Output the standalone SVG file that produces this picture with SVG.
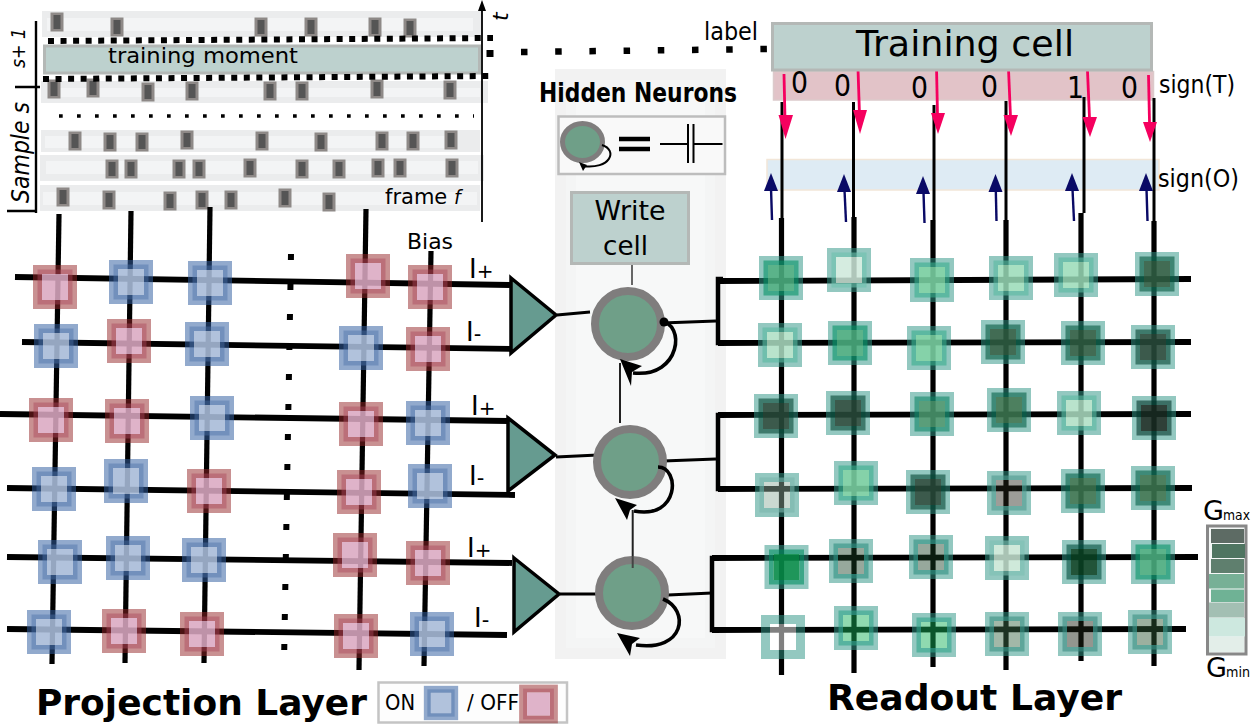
<svg xmlns="http://www.w3.org/2000/svg" width="1252" height="724" viewBox="0 0 1252 724">
<style>
text{font-family:"DejaVu Sans",sans-serif;fill:#000}
.it{font-style:italic}
.bd{font-weight:bold}
.hl{stroke:#000;stroke-width:5.8;fill:none}
.vl{stroke:#000;stroke-width:5.2;fill:none}
.thin{stroke:#000;stroke-width:3;fill:none}
.br{stroke:#000;stroke-width:4.5;fill:none}
.lnk{stroke:#000;stroke-width:3;fill:none}
.loop{stroke:#000;stroke-width:3.6;fill:none}
.tri{fill:#669b90;stroke:#000;stroke-width:3.5;stroke-linejoin:miter}
.neu{fill:#6f9f88;stroke:#7f7d7d;stroke-width:8}
.cellbox{fill:#bdd1ce;stroke:#b4b8b6;stroke-width:3}
.pk{stroke:#f5005f;stroke-width:2.8;fill:none}
.pkh{fill:#f5005f}
.nv{stroke:#0a0a66;stroke-width:2.4;fill:none}
.nvh{fill:#0a0a66}
.sq{fill:#000}
.str{fill:#ebeced}
.strin{fill:#f3f4f5}
.ev1{fill:#8e8987}
.ev2{fill:#555}
.fr{fill:none;stroke:rgb(50,150,135);stroke-opacity:.525;stroke-width:9}
.md{fill:none;stroke:var(--m);stroke-opacity:.6;stroke-width:4.5}
.in{fill:var(--i);fill-opacity:var(--o)}
.w1{--i:#cee9da;--o:.85;--m:#6cc1ae}
.a1{--i:#addec3;--o:.85;--m:#59b9a0}
.a2{--i:#99dab7;--o:.85;--m:#59b9a0}
.a3{--i:#78cda0;--o:.9;--m:#37ad8c}
.a4{--i:#49ab7d;--o:.9;--m:#059366}
.a5{--i:#48946c;--o:.9;--m:#0f8666}
.a6{--i:#3a724e;--o:.9;--m:#056148}
.a7{--i:#2d5c41;--o:.9;--m:#055840}
.a8{--i:#274838;--o:.9;--m:#054634}
.a9{--i:#182b22;--o:.9;--m:#003428}
.g0{--i:#91ae9d;--o:.47;--m:#7ab5ab}
.g4{--i:#26261b;--o:.45;--m:#4f9a8e}
.s5{--i:#183e24;--o:.45;--m:#2f8f80}
.s1{--i:#078b48;--o:.9;--m:#009060}
.s2{--i:#c7e5d4;--o:.85;--m:#7cc0b2}
.s3{--i:#0a4124;--o:.9;--m:#004c3c}
.e0{--i:#ffffff;--o:.5;--m:transparent}
.e2{--i:#17b15a;--o:.48;--m:#2fa588}
.e4{--i:#3c6a49;--o:.48;--m:#3b8f80}
.e5{--i:#1d2315;--o:.48;--m:#3a8a80}
.e6{--i:#305936;--o:.48;--m:#3a8f80}
</style>
<defs>
<g id="cell-on">
<rect x="-17.5" y="-17.5" width="35" height="35" fill="none" stroke="rgb(50,95,160)" stroke-opacity=".53" stroke-width="9"/>
<rect x="-15.25" y="-15.25" width="30.5" height="30.5" fill="none" stroke="rgb(75,113,169)" stroke-opacity=".45" stroke-width="4.5"/>
<rect x="-13" y="-13" width="26" height="26" fill="rgb(167,187,216)" fill-opacity=".89"/>
</g>
<g id="cell-off">
<rect x="-17.5" y="-17.5" width="35" height="35" fill="none" stroke="rgb(148,36,38)" stroke-opacity=".5" stroke-width="9"/>
<rect x="-15.25" y="-15.25" width="30.5" height="30.5" fill="none" stroke="rgb(170,70,90)" stroke-opacity=".45" stroke-width="4.5"/>
<rect x="-13" y="-13" width="26" height="26" fill="rgb(218,168,193)" fill-opacity=".87"/>
</g>
<g id="cell-read">
<rect class="fr" x="-17.5" y="-17.5" width="35" height="35"/>
<rect class="md" x="-15.25" y="-15.25" width="30.5" height="30.5"/>
<rect class="in" x="-13" y="-13" width="26" height="26"/>
</g>
<g id="ev"><rect class="ev1" x="-6.5" y="-9.5" width="13" height="19"/><rect class="ev2" x="-3.5" y="-7" width="7" height="14"/></g>
</defs>

<!-- spike raster -->
<g id="raster">
<rect class="str" x="42" y="11" width="440" height="26"/><rect class="strin" x="47" y="18" width="426" height="13"/>
<rect class="str" x="41" y="81" width="447" height="22"/><rect class="strin" x="48" y="88" width="432" height="9"/>
<rect class="str" x="41" y="130" width="439" height="22"/><rect class="strin" x="45" y="136" width="410" height="12"/>
<rect class="str" x="40" y="155" width="444" height="26"/><rect class="strin" x="46" y="161" width="432" height="13"/>
<rect class="str" x="40" y="185" width="440" height="26"/><rect class="strin" x="43" y="192" width="434" height="13"/>
<rect class="cellbox" x="44.5" y="46" width="435" height="27" stroke-width="2.5"/>
<use href="#ev" x="57" y="22"/><use href="#ev" x="117" y="27"/><use href="#ev" x="261" y="27"/><use href="#ev" x="311" y="27"/><use href="#ev" x="375" y="27"/><use href="#ev" x="410" y="28"/>
<use href="#ev" x="54" y="89"/><use href="#ev" x="93" y="88"/><use href="#ev" x="148" y="92"/><use href="#ev" x="192" y="91"/><use href="#ev" x="270" y="91"/><use href="#ev" x="302" y="91"/><use href="#ev" x="377" y="89"/><use href="#ev" x="450" y="90"/>
<use href="#ev" x="75" y="141"/><use href="#ev" x="110" y="142"/><use href="#ev" x="142" y="142"/><use href="#ev" x="187" y="140"/><use href="#ev" x="262" y="141"/><use href="#ev" x="321" y="142"/><use href="#ev" x="382" y="141"/><use href="#ev" x="413" y="141"/><use href="#ev" x="451" y="140"/>
<use href="#ev" x="112" y="169"/><use href="#ev" x="131" y="169"/><use href="#ev" x="179" y="169"/><use href="#ev" x="199" y="169"/><use href="#ev" x="250" y="168"/><use href="#ev" x="302" y="169"/><use href="#ev" x="339" y="169"/><use href="#ev" x="378" y="168"/><use href="#ev" x="400" y="168"/><use href="#ev" x="452" y="168"/>
<use href="#ev" x="63" y="197"/><use href="#ev" x="109" y="200"/><use href="#ev" x="170" y="201"/><use href="#ev" x="202" y="200"/><use href="#ev" x="231" y="200"/><use href="#ev" x="285" y="198"/><use href="#ev" x="329" y="202"/>
<path d="M48 41 L493 38" stroke="#000" stroke-width="6" stroke-dasharray="6 6.55" fill="none"/>
<path d="M43 79 L489 76" stroke="#000" stroke-width="6" stroke-dasharray="6 6.55" fill="none"/>
<path d="M59 116 L474 116" stroke="#000" stroke-width="3.7" stroke-dasharray="3.7 14.3" fill="none"/>
<path d="M36 21 V213 M15 87 H40 M7 211 H36" stroke="#000" stroke-width="2.4" fill="none"/>
<path d="M482 222 V6" stroke="#000" stroke-width="1.8" fill="none"/>
<path d="M482 0 L478 11 H486 Z" fill="#000"/>
<text class="it" transform="translate(508 21) rotate(-90)" font-size="22">t</text>
<text class="it" transform="translate(25 68) rotate(-90)" font-size="20" textLength="40" lengthAdjust="spacingAndGlyphs">s+ 1</text>
<text class="it" transform="translate(29 203) rotate(-90)" font-size="25" textLength="101" lengthAdjust="spacingAndGlyphs">Sample s</text>
<text x="108" y="63" font-size="22" textLength="190" lengthAdjust="spacingAndGlyphs">training moment</text>
<text x="385" y="204" font-size="21">frame <tspan class="it" font-size="19">f</tspan></text>
</g>

<!-- dotted link towards the training cell -->
<g id="dots">
<rect class="sq" x="486.500" y="50" width="7" height="7"/>
<path d="M521 52 L770 49" stroke="#000" stroke-width="6.500" stroke-dasharray="6.500 27.700" fill="none"/>
</g>

<!-- hidden neuron column backdrop -->
<g id="hidden-panel">
<rect x="555" y="69" width="171" height="590" fill="#f2f2f2"/>
<rect x="566" y="80" width="149" height="568" fill="#f4f5f5"/>
<rect x="576" y="90" width="129" height="548" fill="#f7f8f8"/>
</g>

<!-- sign bands -->
<g id="bands">
<rect x="773.500" y="71.500" width="380" height="28.500" fill="#e2c3c8" stroke="#dccacb" stroke-width="1.500"/>
<rect x="767" y="159.500" width="392" height="30.500" fill="#deebf4" stroke="#f2e6d8" stroke-width="1.500"/>
</g>

<g id="connectors">
<!-- projection rows -->
<path class="hl" d="M15 277 L510 285"/><path class="hl" d="M22 342 L512 349"/>
<path class="hl" d="M0 414 L508 421"/><path class="hl" d="M7 488 L515 495"/>
<path class="hl" d="M7 557 L512 563"/><path class="hl" d="M7 629 L507 635"/>
<!-- projection columns -->
<path class="vl" d="M59 214 L52 664"/><path class="vl" d="M131 211 L125 663"/>
<path class="vl" d="M210 207 L204 663"/><path class="vl" d="M366 209 L359 670"/>
<path class="vl" d="M431 251 L424 666"/>
<!-- column ellipsis -->
<path d="M291 254 L284 664" stroke="#000" stroke-width="6" stroke-dasharray="6 24" fill="none"/>
<!-- readout rows -->
<path class="hl" d="M718 281 L1191 279"/><path class="hl" d="M718 343 L1191 342"/>
<path class="hl" d="M718 415 L1191 414"/><path class="hl" d="M718 489 L1192 488"/>
<path class="hl" d="M712 558 L1198 557"/><path class="hl" d="M712 630 L1186 629"/>
<!-- readout columns -->
<path class="vl" d="M781.500 218 V675"/><path class="vl" d="M854 217 V673"/>
<path class="vl" d="M933 220 V667"/><path class="vl" d="M1006 220 V670"/>
<path class="vl" d="M1081 213 V661"/><path class="vl" d="M1154 221 V666"/>
<path class="thin" d="M782 102 V218"/><path class="thin" d="M853.500 102 V218"/>
<path class="thin" d="M934 105 V220"/><path class="thin" d="M1006 101 V220"/>
<path class="thin" d="M1084 97 V213"/><path class="thin" d="M1154 98 V221"/>
<!-- brackets into the readout rows -->
<path class="br" d="M723 279 H718 V343 H723"/><path class="br" d="M723 415 H718 V489 H723"/>
<path class="br" d="M717 558 H712 V630 H717"/>
<!-- neuron wiring -->
<path class="lnk" d="M557 315 L590 312"/><path class="lnk" d="M556 457 L598 455"/><path class="lnk" d="M560 594 L597 594"/>
<path class="lnk" d="M662 323 L716 321"/><path class="lnk" d="M663 461 L716 459"/><path class="lnk" d="M668 595 L712 593"/>
<path d="M632 264 V285" stroke="#666" stroke-width="2" fill="none"/>
<path d="M620 363 V423" stroke="#222" stroke-width="2" fill="none"/>
<path d="M632.700 510 V556" stroke="#222" stroke-width="2" fill="none"/>
</g>

<!-- supervision arrows -->
<g id="target-arrows">
<path class="pk" d="M784 74 L785 120"/><path class="pkh" d="M778.500 115 L793 115 L785.500 139 Z"/>
<path class="pk" d="M858 69 L859.500 115"/><path class="pkh" d="M853 110 L867 110 L860 134 Z"/>
<path class="pk" d="M936.500 67 L937.500 115"/><path class="pkh" d="M931 113 L945 113 L938 134 Z"/>
<path class="pk" d="M1008.500 69 L1010.500 117"/><path class="pkh" d="M1003.500 115 L1018 115 L1011 136 Z"/>
<path class="pk" d="M1087.500 71 L1089.500 118"/><path class="pkh" d="M1082.500 117 L1097 117 L1090 137 Z"/>
<path class="pk" d="M1148.500 75 L1149.500 122"/><path class="pkh" d="M1143 122 L1157 122 L1150 142 Z"/>
</g>
<g id="output-arrows">
<path class="nv" d="M772 220 L771 188"/><path class="nvh" d="M771 173 L778 191 L764 191 Z"/>
<path class="nv" d="M846 222 L844.500 190"/><path class="nvh" d="M844 174 L851 192 L837 192 Z"/>
<path class="nv" d="M924.500 223 L923.500 192"/><path class="nvh" d="M923 176 L930 194 L916 194 Z"/>
<path class="nv" d="M996.500 221 L995.800 190"/><path class="nvh" d="M995.500 174 L1002.500 192 L988.500 192 Z"/>
<path class="nv" d="M1074 221 L1072.500 189"/><path class="nvh" d="M1072 173 L1079 191 L1065 191 Z"/>
<path class="nv" d="M1147.500 221 L1146.500 189"/><path class="nvh" d="M1146 173 L1153 191 L1139 191 Z"/>
</g>

<!-- training cell -->
<g id="training-cell">
<rect class="cellbox" x="772.500" y="23.500" width="379" height="46.500"/>
<text x="856" y="56" font-size="36" textLength="218" lengthAdjust="spacingAndGlyphs">Training cell</text>
</g>
<g id="target-digits" font-size="31">
<text x="791" y="93" textLength="17" lengthAdjust="spacingAndGlyphs">0</text>
<text x="834" y="96" textLength="17" lengthAdjust="spacingAndGlyphs">0</text>
<text x="911" y="98" textLength="17" lengthAdjust="spacingAndGlyphs">0</text>
<text x="981" y="97" textLength="17" lengthAdjust="spacingAndGlyphs">0</text>
<text x="1067" y="98" textLength="17" lengthAdjust="spacingAndGlyphs">1</text>
<text x="1121" y="98" textLength="17" lengthAdjust="spacingAndGlyphs">0</text>
</g>
<text x="704" y="40" font-size="24" textLength="54" lengthAdjust="spacingAndGlyphs">label</text>
<text x="1159" y="93" font-size="25" textLength="76" lengthAdjust="spacingAndGlyphs">sign(T)</text>
<text x="1158" y="187" font-size="25" textLength="81" lengthAdjust="spacingAndGlyphs">sign(O)</text>

<!-- hidden neuron key -->
<g id="neuron-key">
<text class="bd" x="539" y="102" font-size="27" textLength="198" lengthAdjust="spacingAndGlyphs">Hidden Neurons</text>
<rect x="558.500" y="116.500" width="166.500" height="57.500" fill="#f9f9f9" stroke="#bdbdbd" stroke-width="2.500"/>
<ellipse cx="582.500" cy="142" rx="20" ry="18.500" fill="#6f9f88" stroke="#7f7d7d" stroke-width="5"/>
<path d="M602 145 C 618 150 611 170 582 166" fill="none" stroke="#000" stroke-width="2"/>
<path d="M579 162 L587 165 L583 171 Z" fill="#000"/>
<path d="M619 139 H650 M619 149 H650" stroke="#000" stroke-width="4.500" fill="none"/>
<path d="M660 144 H688 M694 144 H722.500 M688 124 V163 M693.500 124 V163" stroke="#000" stroke-width="2" fill="none"/>
</g>

<g id="write-cell">
<rect class="cellbox" x="571.500" y="192.500" width="117" height="71"/>
<text x="594.500" y="220" font-size="27" textLength="71" lengthAdjust="spacingAndGlyphs">Write</text>
<text x="603" y="255" font-size="27" textLength="45" lengthAdjust="spacingAndGlyphs">cell</text>
</g>

<!-- amplifiers -->
<g id="amp-1"><polygon class="tri" points="511,278 556,315 511,353"/></g>
<g id="amp-2"><polygon class="tri" points="508,418 555,455 508,491"/></g>
<g id="amp-3"><polygon class="tri" points="514,558 559,594 514,632"/></g>

<!-- hidden neurons -->
<g id="neuron-1"><circle class="neu" cx="628" cy="324" r="33"/>
<path class="loop" d="M661 322 C 685 322 682 378 633 373"/><circle cx="664" cy="322" r="4.500"/>
<path d="M620 359 L642 366 L632 372 L631 386 Z"/></g>
<g id="neuron-2"><circle class="neu" cx="630" cy="462" r="33"/>
<path class="loop" d="M658 467 C 680 467 680 520 634 511"/>
<path d="M615 498 L637 505 L630 510 L627 520 Z"/></g>
<g id="neuron-3"><circle class="neu" cx="632" cy="593" r="33"/>
<path class="loop" d="M663 599 C 690 610 685 652 636 645"/>
<path d="M617 633 L640 638 L632 644 L630 656 Z"/>
<path d="M632.700 556 V568" stroke="#444" stroke-width="2" fill="none"/></g>

<!-- amplifier input labels -->
<g id="input-labels" font-size="26">
<text x="469" y="278">I<tspan font-size="20">+</tspan></text>
<text x="466" y="341">I<tspan font-size="21">-</tspan></text>
<text x="471" y="415">I<tspan font-size="20">+</tspan></text>
<text x="469" y="485">I<tspan font-size="21">-</tspan></text>
<text x="467" y="557">I<tspan font-size="20">+</tspan></text>
<text x="474" y="627">I<tspan font-size="21">-</tspan></text>
</g>
<text x="407" y="249" font-size="21" textLength="46" lengthAdjust="spacingAndGlyphs">Bias</text>

<!-- projection layer crossbar -->
<g id="p11" transform="translate(55 287)"><use href="#cell-off"/></g>
<g id="p12" transform="translate(131 282)"><use href="#cell-on"/></g>
<g id="p13" transform="translate(210 283)"><use href="#cell-on"/></g>
<g id="p14" transform="translate(368 276)"><use href="#cell-off"/></g>
<g id="p15" transform="translate(430 287)"><use href="#cell-off"/></g>
<g id="p21" transform="translate(56 346)"><use href="#cell-on"/></g>
<g id="p22" transform="translate(129 341)"><use href="#cell-off"/></g>
<g id="p23" transform="translate(207 344)"><use href="#cell-on"/></g>
<g id="p24" transform="translate(361 348)"><use href="#cell-on"/></g>
<g id="p25" transform="translate(428 349)"><use href="#cell-off"/></g>
<g id="p31" transform="translate(51 420)"><use href="#cell-off"/></g>
<g id="p32" transform="translate(127 421)"><use href="#cell-off"/></g>
<g id="p33" transform="translate(212 418)"><use href="#cell-on"/></g>
<g id="p34" transform="translate(361 424)"><use href="#cell-off"/></g>
<g id="p35" transform="translate(428 423)"><use href="#cell-on"/></g>
<g id="p41" transform="translate(54 489)"><use href="#cell-on"/></g>
<g id="p42" transform="translate(126 481)"><use href="#cell-on"/></g>
<g id="p43" transform="translate(209 491)"><use href="#cell-off"/></g>
<g id="p44" transform="translate(359 492)"><use href="#cell-off"/></g>
<g id="p45" transform="translate(430 486)"><use href="#cell-on"/></g>
<g id="p51" transform="translate(60 562)"><use href="#cell-on"/></g>
<g id="p52" transform="translate(128 558)"><use href="#cell-on"/></g>
<g id="p53" transform="translate(204 560)"><use href="#cell-on"/></g>
<g id="p54" transform="translate(355 555)"><use href="#cell-off"/></g>
<g id="p55" transform="translate(428 563)"><use href="#cell-off"/></g>
<g id="p61" transform="translate(49 632)"><use href="#cell-on"/></g>
<g id="p62" transform="translate(124 631)"><use href="#cell-off"/></g>
<g id="p63" transform="translate(202 634)"><use href="#cell-off"/></g>
<g id="p64" transform="translate(356 636)"><use href="#cell-off"/></g>
<g id="p65" transform="translate(432 634)"><use href="#cell-on"/></g>

<!-- readout layer crossbar -->
<g id="r11" class="a4" transform="translate(781 278)"><use href="#cell-read"/></g>
<g id="r12" class="w1" transform="translate(849 270)"><use href="#cell-read"/></g>
<g id="r13" class="a3" transform="translate(932 280)"><use href="#cell-read"/></g>
<g id="r14" class="a2" transform="translate(1011 278)"><use href="#cell-read"/></g>
<g id="r15" class="a2" transform="translate(1076 275)"><use href="#cell-read"/></g>
<g id="r16" class="a7" transform="translate(1157 274)"><use href="#cell-read"/></g>
<g id="r21" class="a1" transform="translate(780 345)"><use href="#cell-read"/></g>
<g id="r22" class="a4" transform="translate(850 343)"><use href="#cell-read"/></g>
<g id="r23" class="a3" transform="translate(929 348)"><use href="#cell-read"/></g>
<g id="r24" class="a7" transform="translate(1003 342)"><use href="#cell-read"/></g>
<g id="r25" class="a7" transform="translate(1083 343)"><use href="#cell-read"/></g>
<g id="r26" class="a8" transform="translate(1153 347)"><use href="#cell-read"/></g>
<g id="r31" class="a8" transform="translate(776 416)"><use href="#cell-read"/></g>
<g id="r32" class="a8" transform="translate(848 413)"><use href="#cell-read"/></g>
<g id="r33" class="a5" transform="translate(932 414)"><use href="#cell-read"/></g>
<g id="r34" class="a6" transform="translate(1009 410)"><use href="#cell-read"/></g>
<g id="r35" class="a1" transform="translate(1079 413)"><use href="#cell-read"/></g>
<g id="r36" class="a9" transform="translate(1154 418)"><use href="#cell-read"/></g>
<g id="r41" class="g0" transform="translate(777 495)"><use href="#cell-read"/></g>
<g id="r42" class="a3" transform="translate(856 483)"><use href="#cell-read"/></g>
<g id="r43" class="a8" transform="translate(928 492)"><use href="#cell-read"/></g>
<g id="r44" class="g4" transform="translate(1009 493)"><use href="#cell-read"/></g>
<g id="r45" class="a6" transform="translate(1083 491)"><use href="#cell-read"/></g>
<g id="r46" class="a6" transform="translate(1153 488)"><use href="#cell-read"/></g>
<g id="r51" class="s1" transform="translate(786.500 567)"><use href="#cell-read"/></g>
<g id="r52" class="s5" transform="translate(851 561)"><use href="#cell-read"/></g>
<g id="r53" class="s5" transform="translate(931 557)"><use href="#cell-read"/></g>
<g id="r54" class="s2" transform="translate(1007 558)"><use href="#cell-read"/></g>
<g id="r55" class="s3" transform="translate(1084 562)"><use href="#cell-read"/></g>
<g id="r56" class="a4" transform="translate(1153 562)"><use href="#cell-read"/></g>
<g id="r61" class="e0" transform="translate(783 637)"><use href="#cell-read"/></g>
<g id="r62" class="e2" transform="translate(856 628)"><use href="#cell-read"/></g>
<g id="r63" class="e2" transform="translate(934 635)"><use href="#cell-read"/></g>
<g id="r64" class="e4" transform="translate(1007 634)"><use href="#cell-read"/></g>
<g id="r65" class="e5" transform="translate(1080 634)"><use href="#cell-read"/></g>
<g id="r66" class="e6" transform="translate(1150 632)"><use href="#cell-read"/></g>

<!-- conductance scale -->
<g id="g-scale">
<rect x="1207.500" y="526" width="38.500" height="128" fill="#f4f7f6" stroke="#888" stroke-width="3"/>
<rect x="1211" y="529" width="33" height="14" fill="#5d6b64"/>
<rect x="1212" y="544" width="33" height="14" fill="#4f7561"/>
<rect x="1211" y="559" width="33" height="14" fill="#5f7f6e"/>
<rect x="1209" y="574" width="35" height="14.500" fill="#77b096"/>
<rect x="1211" y="589.500" width="33" height="12.500" fill="#6fb295"/>
<rect x="1209" y="602.500" width="35" height="15" fill="#a3bfb3"/>
<rect x="1209" y="618" width="36" height="18.500" fill="#cde8df"/>
<rect x="1209" y="637" width="35" height="15" fill="#e3eee9"/>
<text x="1203" y="520" font-size="27">G</text><text x="1223" y="520" font-size="14" textLength="27" lengthAdjust="spacingAndGlyphs">max</text>
<text x="1206" y="677" font-size="27">G</text><text x="1226" y="677" font-size="14" textLength="24" lengthAdjust="spacingAndGlyphs">min</text>
</g>

<!-- titles and ON/OFF key -->
<text class="bd" x="36" y="715" font-size="36" textLength="331" lengthAdjust="spacingAndGlyphs">Projection Layer</text>
<text class="bd" x="827" y="710" font-size="35" textLength="295" lengthAdjust="spacingAndGlyphs">Readout Layer</text>
<g id="on-off-key">
<rect x="378.500" y="682.500" width="188.500" height="40" fill="#fdfdfd" stroke="#c4c4c4" stroke-width="2.500"/>
<text x="385" y="710" font-size="21" textLength="30" lengthAdjust="spacingAndGlyphs">ON</text>
<use href="#cell-on" transform="translate(441 703) scale(.78)"/>
<text x="467" y="710" font-size="21" textLength="52" lengthAdjust="spacingAndGlyphs">/ OFF</text>
<use href="#cell-off" transform="translate(538.500 704) scale(.88)"/>
</g>
</svg>
